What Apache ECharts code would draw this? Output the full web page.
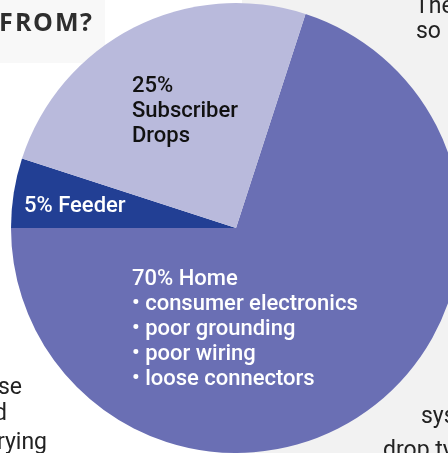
<!DOCTYPE html>
<html>
<head>
<meta charset="utf-8">
<style>
  html, body { margin: 0; padding: 0; background: #fff; }
  #main { width: 448px; height: 453px; }
</style>
<script src="https://cdn.jsdelivr.net/npm/echarts@6/dist/echarts.min.js"></script>
</head>
<body>
<div id="main"></div>
<script>
// 数据
var names = ['Home', 'Feeder', 'Subscriber Drops'];
var values = [70, 5, 25];
var colors = ['#6a6fb4', '#223f94', '#b9badc'];
// 每块的说明文字
var labelLines = [
  ['70% Home', '\u2022 consumer electronics', '\u2022 poor grounding', '\u2022 poor wiring', '\u2022 loose connectors'],
  ['5% Feeder'],
  ['25%', 'Subscriber', 'Drops']
];
var labelColors = ['#ffffff', '#ffffff', '#111111'];
var labelPos = [[132, 267], [24, 194], [132, 74]];

var chart = echarts.init(document.getElementById('main'));

var family = 'Roboto, "Liberation Sans", sans-serif';
function bodyText(str, x, y, align) {
  return {
    type: 'text', z: -5, x: x, y: y,
    style: { text: str, fill: '#222', fontSize: 23, fontFamily: family, align: align || 'left' }
  };
}
// 标题逐字摆放，模拟字间距
var titleChars = ['F', 'R', 'O', 'M', '?'];
var titleX = [-1, 15, 33, 55, 80];

var graphics = [
  // 右侧灰色底
  { type: 'rect', z: -10, shape: { x: 242, y: 0, width: 206, height: 453 }, style: { fill: '#f2f2f2' } },
  // 标题底色
  { type: 'rect', z: -10, shape: { x: 0, y: 0, width: 105, height: 63 }, style: { fill: '#f8f8f8' } },
  // 被裁掉的正文片段
  bodyText('The', 415, -4),
  bodyText('so', 416, 21),
  bodyText('sys', 421, 406),
  bodyText('drop ty', 383, 440),
  bodyText('use', 22, 377, 'right'),
  bodyText('and', 7, 403, 'right'),
  bodyText('carrying', 47, 432, 'right')
];

titleChars.forEach(function (c, i) {
  graphics.push({
    type: 'text', z: 5, x: titleX[i], y: 11,
    style: { text: c, fill: '#2e2e2e', fontSize: 25, fontWeight: 'bold', fontFamily: '"Open Sans", sans-serif' }
  });
});

labelLines.forEach(function (lines, i) {
  graphics.push({
    type: 'text',
    z: 10,
    x: labelPos[i][0],
    y: labelPos[i][1],
    style: {
      text: lines.join('\n'),
      fill: labelColors[i],
      fontSize: 22,
      fontWeight: 500,
      fontFamily: family,
      lineHeight: 25
    }
  });
});

chart.setOption({
  animation: false,
  graphic: graphics,
  series: [
    {
      type: 'pie',
      center: [236, 228],
      radius: 225,
      startAngle: 72,
      clockwise: true,
      silent: true,
      label: { show: false },
      labelLine: { show: false },
      itemStyle: { borderWidth: 0 },
      data: names.map(function (n, i) {
        return { name: n, value: values[i], itemStyle: { color: colors[i] } };
      })
    }
  ]
});
</script>
</body>
</html>
